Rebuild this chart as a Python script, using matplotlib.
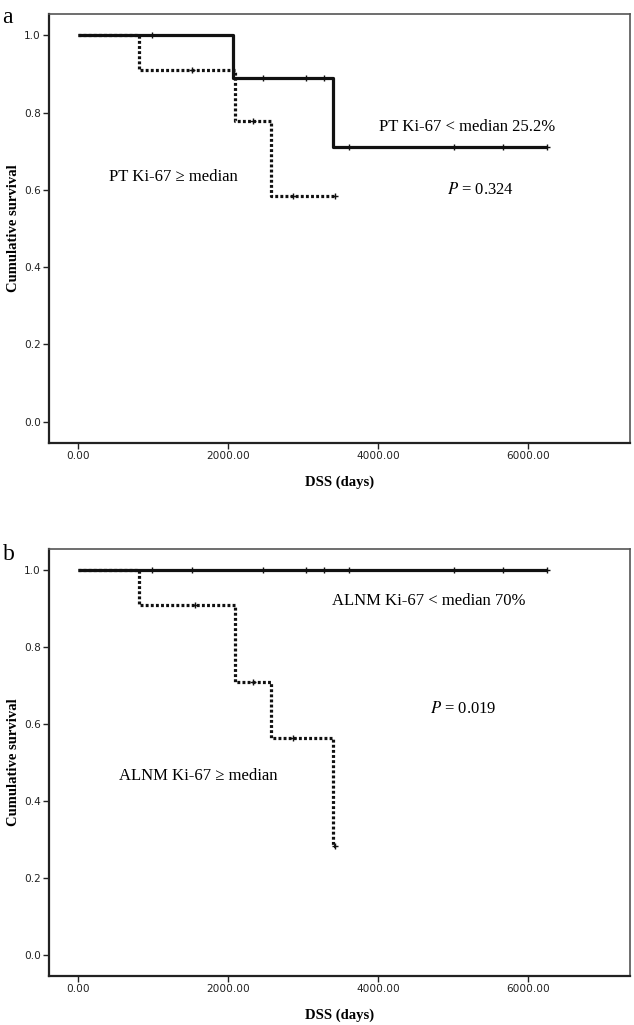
import numpy as np
import matplotlib
matplotlib.use("Agg")
import matplotlib.pyplot as plt

# Panel a: primary tumour Ki-67
a_low_times = [0, 2070, 3400, 6253]
a_low_surv = [1.0, 0.889, 0.711, 0.711]
a_low_cens = [987, 2467, 3040, 3280, 3613, 5013, 5667, 6253]

a_high_times = [0, 813, 2093, 2573, 3427]
a_high_surv = [1.0, 0.909, 0.779, 0.584, 0.584]
a_high_cens = [1520, 2333, 2867, 3427]

# Panel b: ALNM Ki-67
b_low_times = [0, 6253]
b_low_surv = [1.0, 1.0]
b_low_cens = [987, 1520, 2467, 3040, 3280, 3613, 5013, 5667, 6253]

b_high_times = [0, 813, 2093, 2573, 3400, 3430]
b_high_surv = [1.0, 0.909, 0.709, 0.564, 0.282, 0.282]
b_high_cens = [1560, 2333, 2867, 3430]

x_ticks = [0, 2000, 4000, 6000]
y_ticks = [0.0, 0.2, 0.4, 0.6, 0.8, 1.0]

serif = "Liberation Serif"


def step_value(times, surv, t):
    idx = np.searchsorted(times, t, side="right") - 1
    return np.array(surv)[idx]


def km_curve(ax, times, surv, cens, dotted):
    ls = (0, (0.9, 0.7)) if dotted else "-"
    ax.step(times, surv, where="post", color="#111111", lw=2.3, ls=ls,
            solid_capstyle="butt", dash_capstyle="butt")
    cy = [step_value(times, surv, c) for c in cens]
    ax.plot(cens, cy, ls="none", marker="+", ms=5, mew=1.0, color="#111111")


def setup_axes(ax):
    ax.set_xlim(-390, 7360)
    ax.set_ylim(-0.055, 1.055)
    ax.set_xticks(x_ticks)
    ax.set_xticklabels(["%.2f" % v for v in x_ticks])
    ax.set_yticks(y_ticks)
    ax.set_yticklabels(["%.1f" % v for v in y_ticks])
    ax.tick_params(direction="out", length=4, width=1.0, labelsize=7.6,
                   colors="#222222", pad=2)
    for s in ["left", "bottom"]:
        ax.spines[s].set_linewidth(1.6)
        ax.spines[s].set_color("#222222")
    for s in ["top", "right"]:
        ax.spines[s].set_linewidth(1.2)
        ax.spines[s].set_color("#555555")
    ax.set_ylabel("Cumulative survival", fontfamily=serif, fontweight="bold",
                  fontsize=10.5, labelpad=3)
    ax.set_xlabel("DSS (days)", fontfamily=serif, fontweight="bold",
                  fontsize=10.5, labelpad=10)


fig = plt.figure(figsize=(6.34, 10.25), dpi=100)
ax1 = fig.add_axes([0.0773, 0.5678, 0.9164, 0.4185])
ax2 = fig.add_axes([0.0773, 0.0478, 0.9164, 0.4166])

km_curve(ax1, a_low_times, a_low_surv, a_low_cens, False)
km_curve(ax1, a_high_times, a_high_surv, a_high_cens, True)
setup_axes(ax1)
ax1.text(1267, 0.633, "PT Ki-67 \u2265 median", fontfamily=serif, fontsize=12,
         ha="center", va="center")
ax1.text(5187, 0.762, "PT Ki-67 < median 25.2%", fontfamily=serif, fontsize=12,
         ha="center", va="center")
ax1.text(5360, 0.60, "$P$ = 0.324", fontfamily=serif, fontsize=12,
         ha="center", va="center", math_fontfamily="stix")

km_curve(ax2, b_low_times, b_low_surv, b_low_cens, False)
km_curve(ax2, b_high_times, b_high_surv, b_high_cens, True)
setup_axes(ax2)
ax2.text(1600, 0.465, "ALNM Ki-67 \u2265 median", fontfamily=serif, fontsize=12,
         ha="center", va="center")
ax2.text(4680, 0.92, "ALNM Ki-67 < median 70%", fontfamily=serif, fontsize=12,
         ha="center", va="center")
ax2.text(5133, 0.64, "$P$ = 0.019", fontfamily=serif, fontsize=12,
         ha="center", va="center", math_fontfamily="stix")

fig.text(0.004, 0.9776, "a", fontfamily=serif, fontsize=17, ha="left", va="baseline")
fig.text(0.004, 0.4537, "b", fontfamily=serif, fontsize=17, ha="left", va="baseline")

fig.savefig("out.png", dpi=100)
